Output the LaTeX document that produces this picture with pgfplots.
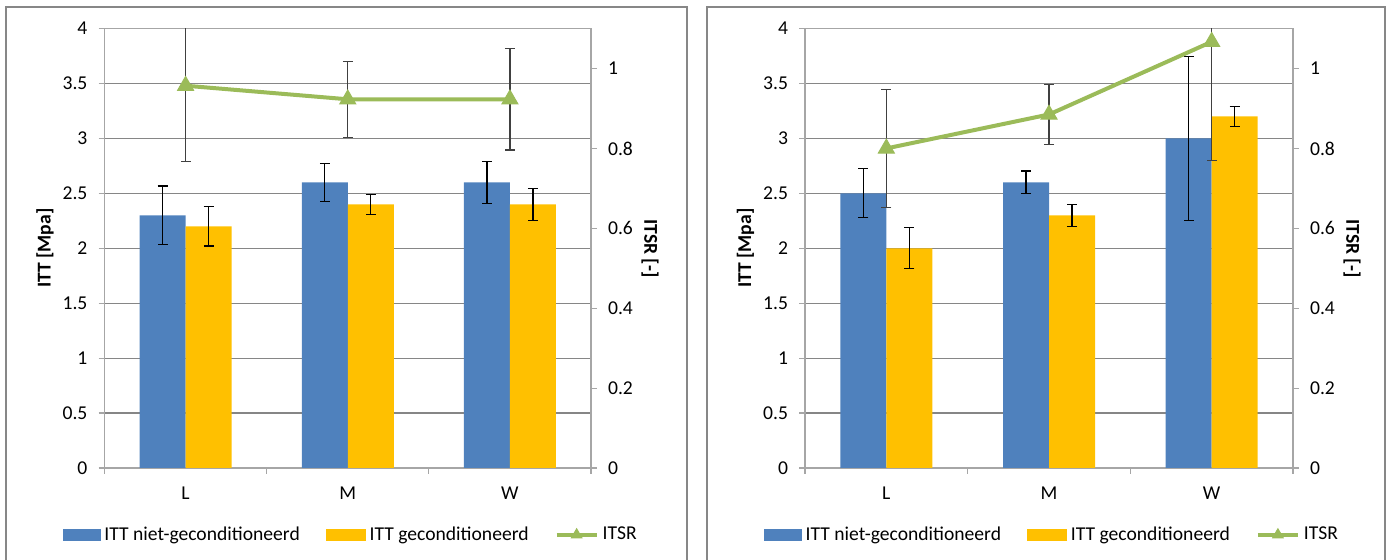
\documentclass[border=0pt]{standalone}
\usepackage{pgfplots}
\usepackage{pgfplotstable}
\pgfplotsset{compat=1.18}
\usepackage{fontspec}
\setmainfont{Carlito}
\definecolor{cblue}{HTML}{4F81BD}
\definecolor{cyel}{HTML}{FFC000}
\definecolor{cgreen}{HTML}{9BBB59}
\definecolor{cgrid}{HTML}{868686}
\definecolor{caxis}{HTML}{A6A6A6}
\definecolor{cframe}{HTML}{878787}

% Left panel
\pgfplotstableread{
x y e
0 2.30 0.267
1 2.60 0.172
2 2.60 0.193
}\LBlue
\pgfplotstableread{
x y e
0 2.20 0.180
1 2.40 0.091
2 2.40 0.146
}\LYel
\pgfplotstableread{
x y e
0 0.957 0.190
1 0.923 0.095
2 0.923 0.127
}\LItsr
% Right panel
\pgfplotstableread{
x y e
0 2.50 0.223
1 2.60 0.103
2 3.00 0.747
}\RBlue
\pgfplotstableread{
x y e
0 2.00 0.187
1 2.30 0.098
2 3.20 0.090
}\RYel
\pgfplotstableread{
x y e
0 0.800 0.147
1 0.885 0.075
2 1.067 0.298
}\RItsr

\newcommand{\cfont}{\fontsize{9.8}{11.5}\selectfont}
\pgfplotsset{
  common/.style={
    scale only axis, height=219.7pt,
    xmin=-0.5, xmax=2.5,
    font=\cfont,
    /pgf/number format/assume math mode=true,
    tick align=outside, major tick length=3pt,
    tick style={caxis, line width=0.6pt},
    axis line style={caxis, line width=0.6pt, -},
  },
  baraxis/.style={
    common,
    ymin=0, ymax=4, ytick={0,0.5,1,1.5,2,2.5,3,3.5,4},
    ytick pos=left, xtick pos=bottom,
    xtick={-0.5,0.5,1.5,2.5}, xticklabels={},
    extra x ticks={0,1,2}, extra x tick labels={L,M,W},
    extra x tick style={major tick length=0pt, grid=none,
      xticklabel style={yshift=-6pt}},
    ymajorgrids, grid style={cgrid, line width=0.6pt},
    yticklabel style={xshift=-2pt},
    ybar=0pt, bar width=23pt,
    every axis y label/.style={at={(axis description cs:0,0.5)}, xshift=-29.75pt, rotate=90, anchor=center},
    ylabel={\textbf{ITT [Mpa]}},
    error bars/y dir=both, error bars/y explicit,
    error bars/error bar style={black, line width=0.6pt},
    error bars/error mark options={rotate=90, mark size=2.5pt, black, line width=0.6pt},
  },
  itsraxis/.style={
    common,
    ymin=0, ymax=1.1, ytick={0,0.2,0.4,0.6,0.8,1},
    axis x line=none, axis y line*=right,
    yticklabel style={xshift=2pt},
    every axis y label/.style={at={(axis description cs:1,0.5)}, xshift=29.5pt, rotate=-90, anchor=center},
    ylabel={\textbf{ITSR [-]}},
    error bars/y dir=both, error bars/y explicit,
    error bars/error bar style={black!75, line width=0.6pt},
    error bars/error mark options={rotate=90, mark size=2.5pt, black!75, line width=0.6pt},
    legend columns=3,
    legend style={draw=none, fill=none, at={(0.508,-0.152)}, anchor=center,
      font=\cfont,
      /tikz/every even column/.append style={column sep=11pt}},
  },
  itsrline/.style={cgreen, line width=2pt, mark=triangle*, mark size=4.6pt,
    mark options={fill=cgreen, draw=cgreen, line width=0.5pt},
    legend image code/.code={\draw[cgreen, line width=2pt] (0pt,0pt) -- (20pt,0pt);
      \draw[cgreen, fill=cgreen, mark size=3pt] plot[mark=triangle*] coordinates {(10pt,0pt)};}},
}

\begin{document}
\begin{tikzpicture}
\useasboundingbox (0,0) rectangle (695.5pt,280pt);
\draw[cframe, line width=1pt] (3pt,-5pt) rectangle (343.5pt,276.5pt);
\draw[cframe, line width=1pt] (353.3pt,-5pt) rectangle (692.5pt,276.5pt);

% ---------- left panel ----------
\begin{axis}[baraxis, width=243.25pt, at={(52.25pt,46pt)}, anchor=south west]
\addplot[fill=cblue, draw=none] table[x=x, y=y, y error=e] {\LBlue};
\addplot[fill=cyel, draw=none] table[x=x, y=y, y error=e] {\LYel};
\end{axis}
\begin{axis}[itsraxis, width=243.25pt, at={(52.25pt,46pt)}, anchor=south west]
\addlegendimage{legend image code/.code={\fill[cblue] (0pt,-2.6pt) rectangle (18.5pt,2.6pt);}}
\addlegendentry{ITT niet-geconditioneerd}
\addlegendimage{legend image code/.code={\fill[cyel] (0pt,-2.6pt) rectangle (19.5pt,2.6pt);}}
\addlegendentry{ITT geconditioneerd}
\addplot[itsrline] table[x=x, y=y, y error=e] {\LItsr};
\addlegendentry{ITSR}
\end{axis}

% ---------- right panel ----------
\begin{axis}[baraxis, width=244pt, at={(402.5pt,46pt)}, anchor=south west]
\addplot[fill=cblue, draw=none] table[x=x, y=y, y error=e] {\RBlue};
\addplot[fill=cyel, draw=none] table[x=x, y=y, y error=e] {\RYel};
\end{axis}
\begin{axis}[itsraxis, width=244pt, at={(402.5pt,46pt)}, anchor=south west]
\addlegendimage{legend image code/.code={\fill[cblue] (0pt,-2.6pt) rectangle (18.5pt,2.6pt);}}
\addlegendentry{ITT niet-geconditioneerd}
\addlegendimage{legend image code/.code={\fill[cyel] (0pt,-2.6pt) rectangle (19.5pt,2.6pt);}}
\addlegendentry{ITT geconditioneerd}
\addplot[itsrline] table[x=x, y=y, y error=e] {\RItsr};
\addlegendentry{ITSR}
\end{axis}
\end{tikzpicture}
\end{document}
